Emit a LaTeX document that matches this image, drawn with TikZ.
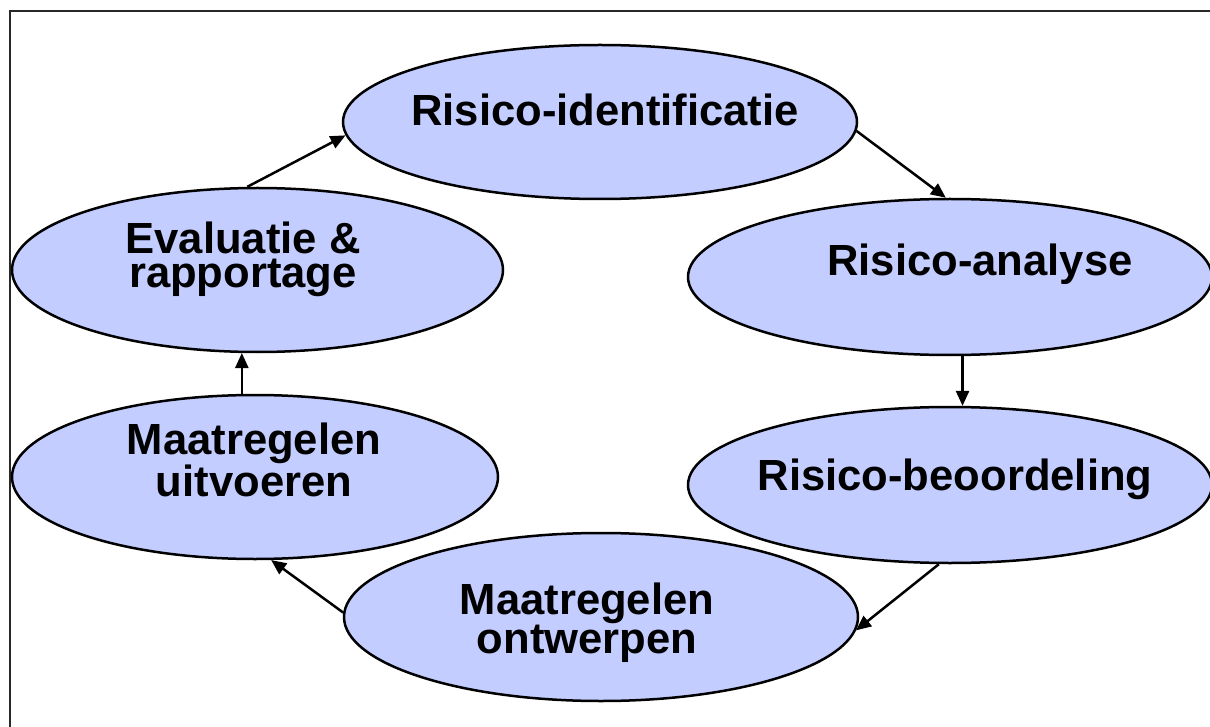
\documentclass[tikz,border=0pt]{standalone}
\usepackage{fontspec}
\setmainfont{Liberation Sans}
\usetikzlibrary{shapes.geometric,arrows.meta}
\definecolor{ellfill}{RGB}{195,205,255}
\definecolor{framecol}{RGB}{40,40,40}
\tikzset{
  phase/.style={ellipse,draw=black,fill=ellfill,line width=2.5pt,inner sep=0pt},
  lbl/.style={font=\fontsize{43.6}{34.5}\bfseries,align=center,inner sep=0pt,anchor=base},
  arr/.style={line width=2.5pt,-{Triangle[length=15pt,width=13pt]}},
}
\begin{document}
\begin{tikzpicture}[x=1pt,y=-1pt]
\useasboundingbox (0,0) rectangle (1210,727);
\draw[framecol,line width=2pt] (10,727) -- (10,11) -- (1215,11);
% ellipses
\node[phase,minimum width=514pt,minimum height=154pt] (ri) at (600,122) {};
\node[phase,minimum width=524pt,minimum height=156pt] (ra) at (950,277) {};
\node[phase,minimum width=524pt,minimum height=156pt] (rb) at (950,485) {};
\node[phase,minimum width=514pt,minimum height=168pt] (ro) at (601,617) {};
\node[phase,minimum width=486pt,minimum height=164pt] (ru) at (255,477) {};
\node[phase,minimum width=491pt,minimum height=164pt] (ev) at (257.5,270) {};
% labels
\node[lbl] (tri) at (605,126) {Risico-identificatie};
\node[lbl] (tra) at (980,276) {Risico-analyse};
\node[lbl] (trb) at (955,490) {Risico-beoordeling};
\node[lbl] (tro) at (587,653) {Maatregelen\\ontwerpen};
\node[lbl] (tru) at (254,496) {Maatregelen\\uitvoeren};
\node[lbl] (tev) at (243,288) {Evaluatie \&\\rapportage};
% connectors
\draw[arr] (ev.97.8) -- (ri.183.3);
\draw[arr] (ri.-2.9) -- (ra.93.7);
\draw[arr] (ra.279.8) -- (ra.279.8 |- rb.80.2);
\draw[arr] (rb.262.6) -- (ro.357.1);
\draw[arr] (ro.179.8) -- (ru.281.8);
\draw[arr] (ru.99.5) -- (ru.99.5 |- ev.258.6);
\end{tikzpicture}
\end{document}
